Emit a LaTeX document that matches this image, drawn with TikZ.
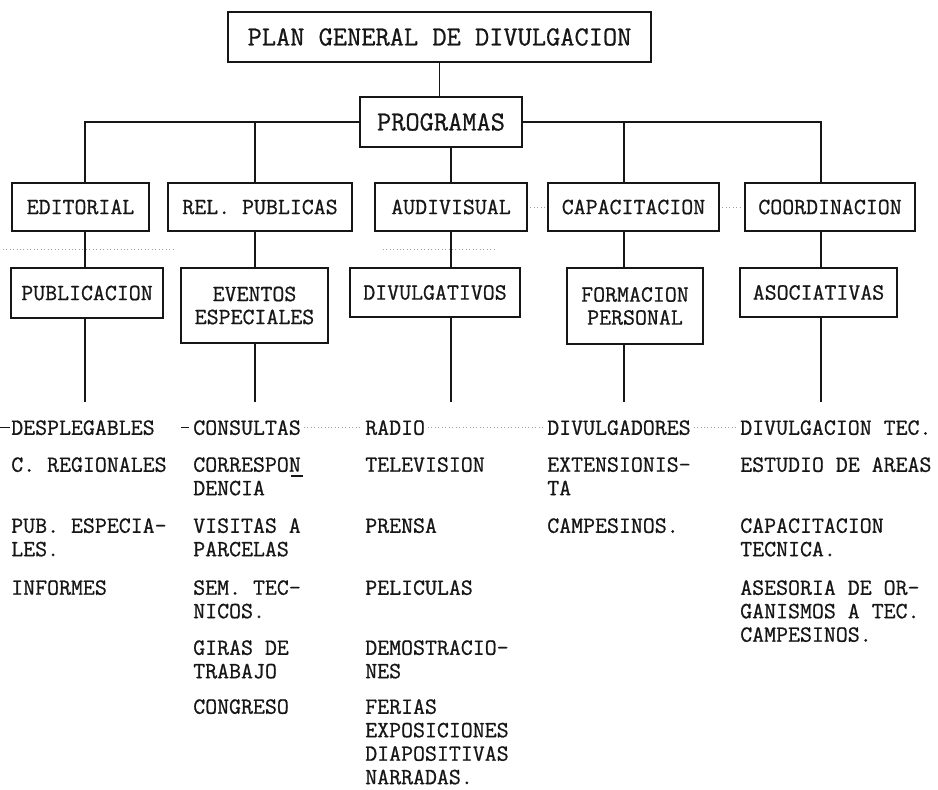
\documentclass[tikz,border=0pt]{standalone}
\usepackage{fontspec}
\usepackage{tikz}
\usetikzlibrary{positioning}
\newfontfamily\typer[FakeBold=0.8]{Latin Modern Mono}
\definecolor{ink}{HTML}{161616}
\definecolor{smudge}{HTML}{A0A0A0}

\begin{document}
\begin{tikzpicture}[x=0.75pt,y=-0.75pt,
  box/.style={draw=ink,line width=1.1pt,inner sep=0pt,align=center,text=ink,font=\typer\fontsize{17.4}{17.25}\selectfont},
  bigbox/.style={box,font=\typer\fontsize{20.7}{22}\selectfont},
  item/.style={anchor=north west,inner sep=0pt,align=left,text=ink,font=\typer\fontsize{17.4}{17.6}\selectfont},
  link/.style={draw=ink,line width=1.1pt},
  speck/.style={draw=smudge,line width=0.6pt,dotted,shorten <=2pt,shorten >=2pt}]
\useasboundingbox (0,0) rectangle (938,789);
% top of the plan
\node[bigbox,minimum width=317.25pt,minimum height=37.5pt] (plan) at (439.5,37) {PLAN GENERAL DE DIVULGACION};
\node[bigbox,minimum width=121.5pt,minimum height=37.5pt] (prog) at (441,122) {PROGRAMAS};
% programas
\node[box,minimum width=102.75pt,minimum height=36pt] (edit) at (80.5,207) {EDITORIAL};
\node[box,minimum width=138pt,minimum height=36pt] (rel) at (260,207) {REL. PUBLICAS};
\node[box,minimum width=114pt,minimum height=36pt] (aud) at (451,207) {AUDIVISUAL};
\node[box,minimum width=128.25pt,minimum height=36pt] (capa) at (633.5,207) {CAPACITACION};
\node[box,minimum width=127.5pt,minimum height=36pt] (coor) at (830,207) {COORDINACION};
% subprogramas
\node[box,minimum width=114pt,minimum height=37.5pt] (pub) at (87,293) {PUBLICACION};
\node[box,minimum width=110.25pt,minimum height=56.25pt] (evt) at (254.5,305.5) {EVENTOS\\ESPECIALES};
\node[box,minimum width=127.5pt,minimum height=36.75pt] (divg) at (435,292.5) {DIVULGATIVOS};
\node[box,minimum width=102pt,minimum height=57pt] (form) at (635,306) {FORMACION\\PERSONAL};
\node[box,minimum width=117.75pt,minimum height=36.75pt] (asoc) at (818.5,292.5) {ASOCIATIVAS};
% trunk lines end here
\coordinate (t1) at (85,402);
\coordinate (t2) at (255,402);
\coordinate (t3) at (451,402);
\coordinate (t4) at (624,402);
\coordinate (t5) at (821,402);

\draw[link] (plan.south) -- (plan.south |- prog.north);
\draw[link] (prog.west) -| (t1 |- edit.north);
\draw[link] (prog.east) -| (t5 |- coor.north);
\draw[link] (t2 |- prog.west) -- (t2 |- rel.north);
\draw[link] (t4 |- prog.east) -- (t4 |- capa.north);
\draw[link] (t3 |- prog.south) -- (t3 |- aud.north);
\foreach \a/\b/\c in {edit/pub/1,rel/evt/2,aud/divg/3,capa/form/4,coor/asoc/5}{
  \draw[link] (t\c |- \a.south) -- (t\c |- \b.north);
  \draw[link] (t\c |- \b.south) -- (t\c);
}

% lists
\foreach \m/\yy/\txt in {1/420/DESPLEGABLES,2/457/C. REGIONALES,3/518/{PUB. ESPECIA-\\LES.},4/580/INFORMES}
  \node[item] (pub\m) at (11,\yy) {\txt};
\foreach \m/\yy/\txt in {1/420/CONSULTAS,2/457/{CORRESPON\\DENCIA},3/518/{VISITAS A\\PARCELAS},4/580/{SEM. TEC-\\NICOS.},5/640/{GIRAS DE\\TRABAJO},6/699/CONGRESO}
  \node[item] (evt\m) at (193,\yy) {\txt};
\foreach \m/\yy/\txt in {1/420/RADIO,2/457/TELEVISION,3/518/PRENSA,4/580/PELICULAS,5/640/{DEMOSTRACIO-\\NES},6/699/{FERIAS\\EXPOSICIONES\\DIAPOSITIVAS\\NARRADAS.}}
  \node[item] (divg\m) at (365,\yy) {\txt};
\foreach \m/\yy/\txt in {1/420/DIVULGADORES,2/457/{EXTENSIONIS-\\TA},3/518/CAMPESINOS.}
  \node[item] (form\m) at (547,\yy) {\txt};
\foreach \m/\yy/\txt in {1/420/DIVULGACION TEC.,2/457/ESTUDIO DE AREAS,3/518/{CAPACITACION\\TECNICA.},4/580/{ASESORIA DE OR-\\GANISMOS A TEC.\\CAMPESINOS.}}
  \node[item] (asoc\m) at (740,\yy) {\txt};

% smudges of the copy
\draw[speck] (0,249) -- (177,249);
\draw[speck] (380,249) -- (498,249);
\draw[speck] (aud.east) -- (capa.west);
\draw[speck] (capa.east) -- (coor.west);
\draw[ink,line width=0.6pt] ([xshift=-1pt]pub1.west) -- ++(-10,0);
\draw[ink,line width=0.6pt] ([xshift=-3pt]evt1.west) -- ++(-8,0);
\draw[speck] (evt1.east) -- (divg1.west);
\draw[speck] (divg1.east) -- (form1.west);
\draw[speck] (form1.east) -- (asoc1.west);
\draw[ink,line width=0.8pt] ([shift={(-10,19)}]evt2.north east) -- ++(12,0);
\end{tikzpicture}
\end{document}
